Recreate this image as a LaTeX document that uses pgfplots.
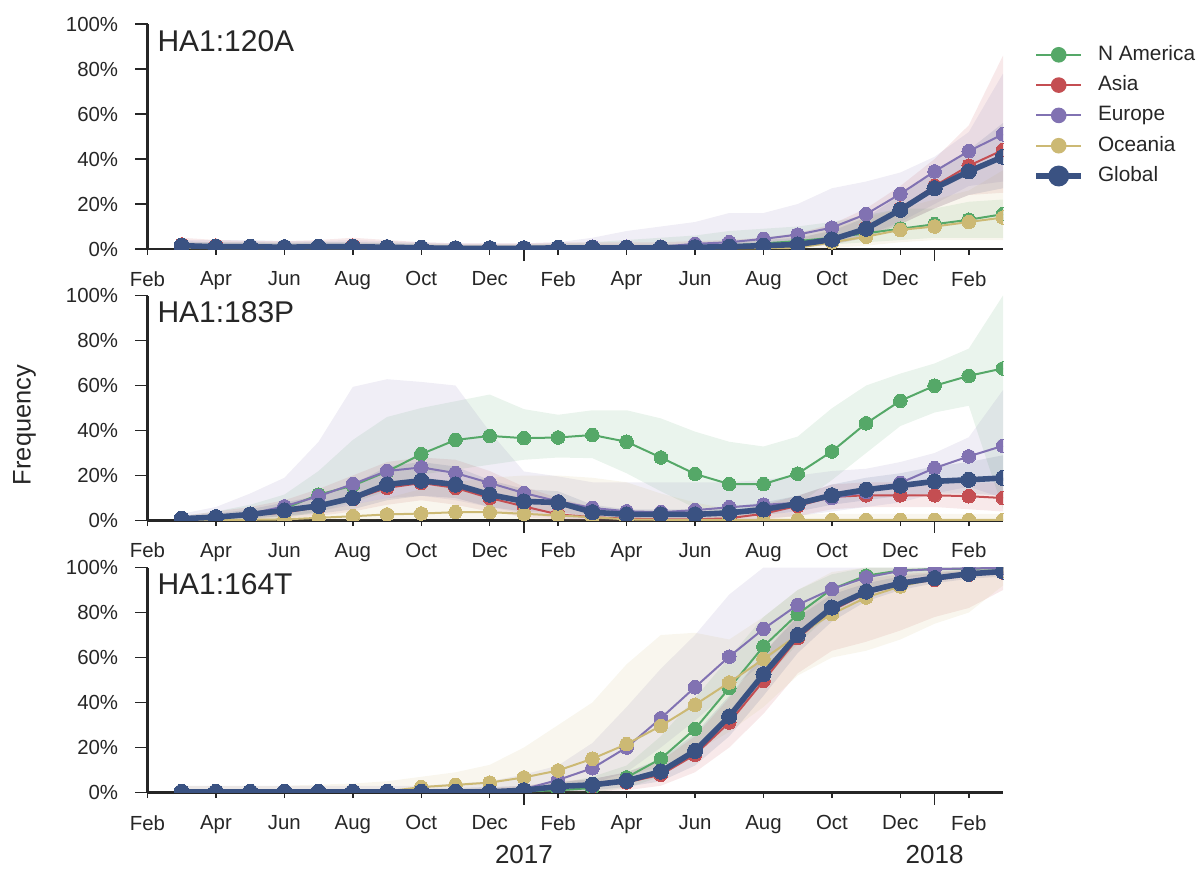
\documentclass[border=0pt]{standalone}
\usepackage{fontspec}
\setmainfont{Liberation Sans}
\usepackage{pgfplots}
\pgfplotsset{compat=1.18}
\usepackage{pgfplotstable}
\definecolor{cNA}{HTML}{55A868}
\definecolor{cAS}{HTML}{C44E52}
\definecolor{cEU}{HTML}{8172B2}
\definecolor{cOC}{HTML}{CCB974}
\definecolor{cGL}{HTML}{3A5282}
\definecolor{ink}{HTML}{262626}

% ---------- HA1:120A ----------
\pgfplotstableread{
x  na   as   eu   oc   gl
2  1.0  2.0  1.0  0.5  1.5
3  0.8  1.5  1.0  0.3  1.0
4  0.7  1.2  1.0  0.3  1.0
5  0.6  1.0  0.8  0.3  0.8
6  0.6  1.2  0.8  0.3  1.0
7  0.6  1.5  1.0  0.3  1.0
8  0.5  1.0  0.8  0.3  0.8
9  0.4  0.5  0.5  0.3  0.5
10 0.3  0.3  0.3  0.3  0.3
11 0.3  0.3  0.3  0.3  0.3
12 0.3  0.3  0.3  0.3  0.3
13 0.3  0.5  0.5  0.3  0.5
14 0.3  0.5  1.0  0.3  0.5
15 0.5  0.5  1.0  0.3  0.5
16 0.5  0.5  1.0  0.3  0.5
17 1.0  0.8  2.3  0.3  0.8
18 1.5  1.0  3.0  0.3  1.0
19 2.5  1.5  4.5  0.3  1.5
20 3.5  2.0  6.4  0.5  2.0
21 5.0  4.5  9.5  3.0  4.2
22 7.0  9.5  15.5 5.5  9.0
23 9.0  18   24.5 8.5  17.4
24 11   28   34.5 10   27
25 13   37   43.5 12   34.5
26 15.5 44   51   14   41
}\tabA
% confidence bands: upper edge left to right, then lower edge right to left
\pgfplotstableread{
x  na   as   eu   oc   gl
2  3    5    4    2    3.5
3  3    4    4    2    3
4  3    3.5  4    2    3
5  3    3.5  3.5  2    2.5
6  3    4    3.5  2    3
7  3    5    4    2    3
8  3    4    3.5  2    2.5
9  2.5  3    3    2    2
10 2    2.5  2.5  2    1.5
11 2    2.5  2.5  2    1.5
12 2    2.5  2.5  2    1.5
13 2.5  3    3    2    2
14 3    3    5    2    2
15 4    3    8    2    2
16 5    3    10   2    2
17 6    3.5  12   2    2.5
18 8    4    16   2    3
19 9    5    16   2    4
20 10   7    20   4    5
21 12   11   27   9    8
22 15   18   30   14   14
23 18   28   34   18   24
24 18   40   41   22   35
25 21   55   52   26   44
26 22   86   78   35   56
26 5    25   30   4    27
25 5    24   28   4    24
24 5    18   20   4    18
23 4    11   12   3    11
22 3    5    6    1.5  5
21 2    2    3    0.5  2
20 1    0.5  2    0    0.5
19 0.5  0    1    0    0.5
18 0    0    0.5  0    0
17 0    0    0    0    0
2  0    0    0    0    0
}\polyA

% ---------- HA1:183P ----------
\pgfplotstableread{
x  na   as   eu   oc   gl
2  0.5  0.8  0.8  0.2  0.8
3  1.0  1.5  1.5  0.3  1.5
4  2.0  2.5  3.0  0.3  2.7
5  5.3  3.5  6.3  0.5  4.5
6  11.5 6.0  10.8 1.2  6.5
7  15.5 9.5  16.2 1.9  10
8  21.8 14.5 22   2.7  16
9  29.5 16.7 23.6 3.1  17.7
10 35.8 14.5 21.1 3.7  16
11 37.6 10   16.7 3.7  11.5
12 36.6 6.3  12.2 3.0  8.5
13 36.9 2.7  8.5  2.2  8.0
14 38   1.5  5.6  1.5  3.7
15 35   0.8  4.1  0.5  2.7
16 28   0.5  3.7  0.3  2.7
17 20.7 0.5  4.6  0.3  2.7
18 16.2 1.0  5.9  0.3  3.4
19 16.2 3.0  7.0  0.3  4.9
20 20.8 6.5  7.8  0.3  7.5
21 30.7 10.5 10   0.3  11.2
22 43.2 11.2 12.7 0.3  13.7
23 53.2 11.2 16.7 0.3  15.5
24 59.9 11.2 23.3 0.3  17.4
25 64.3 10.8 28.5 0.3  18.1
26 67.6 10   33.2 0.3  18.9
}\tabB
\pgfplotstableread{
x  na   as   eu   oc   gl
2  2    2    3    2    2
3  4    4    6    2    3
4  7    6    12   2    5
5  11.5 9    19   3    8
6  22   14   35   5    11
7  35.8 20   59.4 7    16
8  46   26   62.8 10   24
9  50   28   61.6 14   26
10 53   27   60   17   24
11 56   22   39.5 19   18
12 49.5 15   21.8 20   14
13 47   10   19.6 20   13
14 49   6    17   19   7
15 49   4    17   17   5
16 45.4 3    17   12   5
17 39.5 3    17   8    5
18 35   4    17   5    6
19 32.9 7    18   4    8
20 37.3 11   20   3    11
21 49.9 16   22   3    16
22 60   17   23   3    19
23 65.3 17   26   3    21
24 69.8 17   30   3    24
25 76.4 17   37   3    26
26 100  17   58   3    29
26 5    4    10   0    11
25 51   5    15   0    12
24 48   6    12   0    12
23 42   6    8    0    11
22 30   6    6    0    9
21 18   5    4    0    7
20 7    2    2    0    4
19 3    0.5  1    0    2.5
18 3    0    0    0    1.5
17 5.6  0    0    0    1
16 13   0    0    0    1
15 21   0    0    0    1
14 27.7 0    0    0    1.5
13 28   0.5  1    0    4
12 27   1.5  3    0.5  4
11 24.8 4    6    0.8  6
10 22.6 7    9    0.8  10
9  20.4 9    11   0.5  11
8  13   7    10   0.5  9
7  8    4    7    0    5
6  4    2    4    0    3
5  1    1    2    0    2
4  0    0.5  0.5  0    1
3  0    0    0    0    0.5
2  0    0    0    0    0
}\polyB

% ---------- HA1:164T ----------
\pgfplotstableread{
x  na   as   eu   oc   gl
2  0.2  0.3  0.3  0.5  0.3
3  0.2  0.3  0.3  0.5  0.3
4  0.2  0.3  0.3  0.5  0.3
5  0.2  0.3  0.3  0.5  0.3
6  0.2  0.3  0.3  0.5  0.3
7  0.2  0.3  0.3  0.5  0.3
8  0.2  0.3  0.3  0.5  0.3
9  0.2  0.3  0.3  2.4  0.3
10 0.2  0.3  0.3  3.4  0.3
11 0.2  0.3  0.3  4.4  0.3
12 0.5  1.5  1.5  6.7  1.0
13 1.0  2.5  5.6  9.8  2.7
14 2.0  3.0  10.8 15   3.4
15 6.7  4.5  20   21.5 5.2
16 15   7.9  33   29.6 9.3
17 28.3 16.8 46.8 39   18.5
18 46.4 31.1 60.4 48.9 33.8
19 64.9 49.6 72.7 59.3 52.6
20 79.3 68.6 83.4 70   70
21 90.4 81   90.4 79.3 82.2
22 96.4 88.5 95.6 86.7 89.3
23 98.7 92.5 98.5 91.6 93
24 99.3 94.5 99.3 95   95.3
25 99.5 96.8 99.6 97.5 97.2
26 99.7 97.8 99.8 98.5 98.2
}\tabC
\pgfplotstableread{
x  na   as   eu   oc   gl
2  1    1    3    3    1
3  1    1    3    3    1
4  1    1    3    3    1
5  1    1    3    3    1
6  1    1    3    3.5  1
7  1    1    3    4    1
8  1    1    3    5    1
9  1    1    3    7    1.5
10 1    1.5  4    9    2
11 1    2    5    12.3 2.5
12 2    3    8    20   3
13 4    5    12   30   4.5
14 7    6    22   40   6
15 12   9    38   57   9
16 25   14   55   70   15
17 42   25   70   71   26
18 60   42   88   68   43
19 78   62   100  78   62
20 90   79   100  90   78
21 97   89   100  98   88
22 100  95   100  100  93
23 100  97   100  100  96
24 100  98   100  100  97.5
25 100  99   100  100  98.5
26 100  100  100  100  99.5
26 98   90   98   92   96
25 98   82   97   80   95
24 97   78   96   75   93
23 95   72   93   68   90
22 90   67   88   63   85
21 80   63   80   60   76
20 66   53   70   52   62
19 50   35   58   38   43
18 33   20   45   27   25
17 17   9    32   18   12
16 7    3    20   12   5
15 2    1    9    7    2.5
14 0    0.5  4    4    1
13 0    0    1    2.5  0.5
12 0    0    0    1.5  0
11 0    0    0    1    0
10 0    0    0    0.5  0
9  0    0    0    0    0
2  0    0    0    0    0
}\polyC

\newcommand{\band}[3]{%
  \addplot[fill=#3, fill opacity=0.12, draw=none, forget plot] table[x=x,y=#2]{#1};
}
\newcommand{\panel}[2]{%
  \band{#2}{na}{cNA}
  \band{#2}{as}{cAS}
  \band{#2}{eu}{cEU}
  \band{#2}{oc}{cOC}
  \band{#2}{gl}{cGL}
  \addplot[region, cNA] table[x=x,y=na]{#1};
  \addplot[region, cAS] table[x=x,y=as]{#1};
  \addplot[region, cEU] table[x=x,y=eu]{#1};
  \addplot[region, cOC] table[x=x,y=oc]{#1};
  \addplot[cGL, line width=2.8pt, mark=*, mark size=3.8pt, mark options={solid, line width=0pt}] table[x=x,y=gl]{#1};
}

\pgfplotsset{
  region/.style={line width=1pt, mark=*, mark size=3.4pt, mark options={solid, line width=0pt}},
  panel/.style={
    scale only axis, width=427.75pt, height=112.5pt,
    anchor=north west,
    xmin=1, xmax=26, ymin=0, ymax=100,
    axis lines=left, axis line style={-, line width=1.25pt, ink},
    clip marker paths=true,
    tick align=outside, tickwidth=2.75pt,
    tick style={ink, line width=0.75pt},
    xtick={1,3,...,25},
    xticklabels={Feb,Apr,Jun,Aug,Oct,Dec,Feb,Apr,Jun,Aug,Oct,Dec,Feb},
    ytick=\empty,
    extra y ticks={0,20,40,60,80,100},
    extra y tick labels={0\%,20\%,40\%,60\%,80\%,100\%},
    extra y tick style={tickwidth=6pt},
    extra x ticks={12,24},
    ticklabel style={font=\fontsize{10.2}{12}\selectfont, text=ink, inner sep=0pt},
    xticklabel shift=8.4pt,
    yticklabel shift=8.5pt,
  },
}

\begin{document}
\begin{tikzpicture}
\path (0,0) rectangle (599pt,-434.5pt);

\begin{axis}[panel, at={(73.75pt,-12pt)},
  extra x tick labels={},
  extra x tick style={tickwidth=6pt},
  legend style={at={(1,1)}, anchor=north west, xshift=15.2pt, yshift=-10pt,
    inner sep=0pt, outer sep=0pt,
    draw=none, fill=none, font=\fontsize{10.4}{12}\selectfont, text=ink,
    row sep=4.35pt, column sep=6.5pt,
    nodes={inner sep=0.5pt, text height=7.6pt, text depth=2.2pt},
    cells={anchor=west}},
  legend image code/.code={%
    \begin{scope}[#1]
    \draw (0pt,0pt) -- (22.5pt,0pt);
    \fill (11.25pt,0pt) circle[radius=\pgfplotmarksize];
    \end{scope}},
]
\panel{\tabA}{\polyA}
\node[anchor=north west, inner sep=0pt, font=\fontsize{15}{18}\selectfont, text=ink] at (rel axis cs:0,1) [xshift=4.8pt, yshift=-3pt] {HA1:120A};
\legend{N America, Asia, Europe, Oceania, Global}
\end{axis}

\begin{axis}[panel, at={(73.75pt,-147.75pt)},
  extra x tick labels={},
  extra x tick style={tickwidth=6pt},
]
\panel{\tabB}{\polyB}
\node[anchor=north west, inner sep=0pt, font=\fontsize{15}{18}\selectfont, text=ink] at (rel axis cs:0,1) [xshift=4.8pt, yshift=-3pt] {HA1:183P};
\end{axis}

\begin{axis}[panel, at={(73.75pt,-283.75pt)},
  extra x tick labels={2017,2018},
  extra x tick style={tickwidth=6pt, tick label style={yshift=-11.75pt, font=\fontsize{13}{15}\selectfont}},
]
\panel{\tabC}{\polyC}
\node[anchor=north west, inner sep=0pt, font=\fontsize{15}{18}\selectfont, text=ink] at (rel axis cs:0,1) [xshift=4.8pt, yshift=-3pt] {HA1:164T};
\end{axis}

\node[rotate=90, font=\fontsize{12.7}{15}\selectfont, text=ink, inner sep=0pt] at (12.25pt,-212.5pt) {Frequency};
\end{tikzpicture}
\end{document}
